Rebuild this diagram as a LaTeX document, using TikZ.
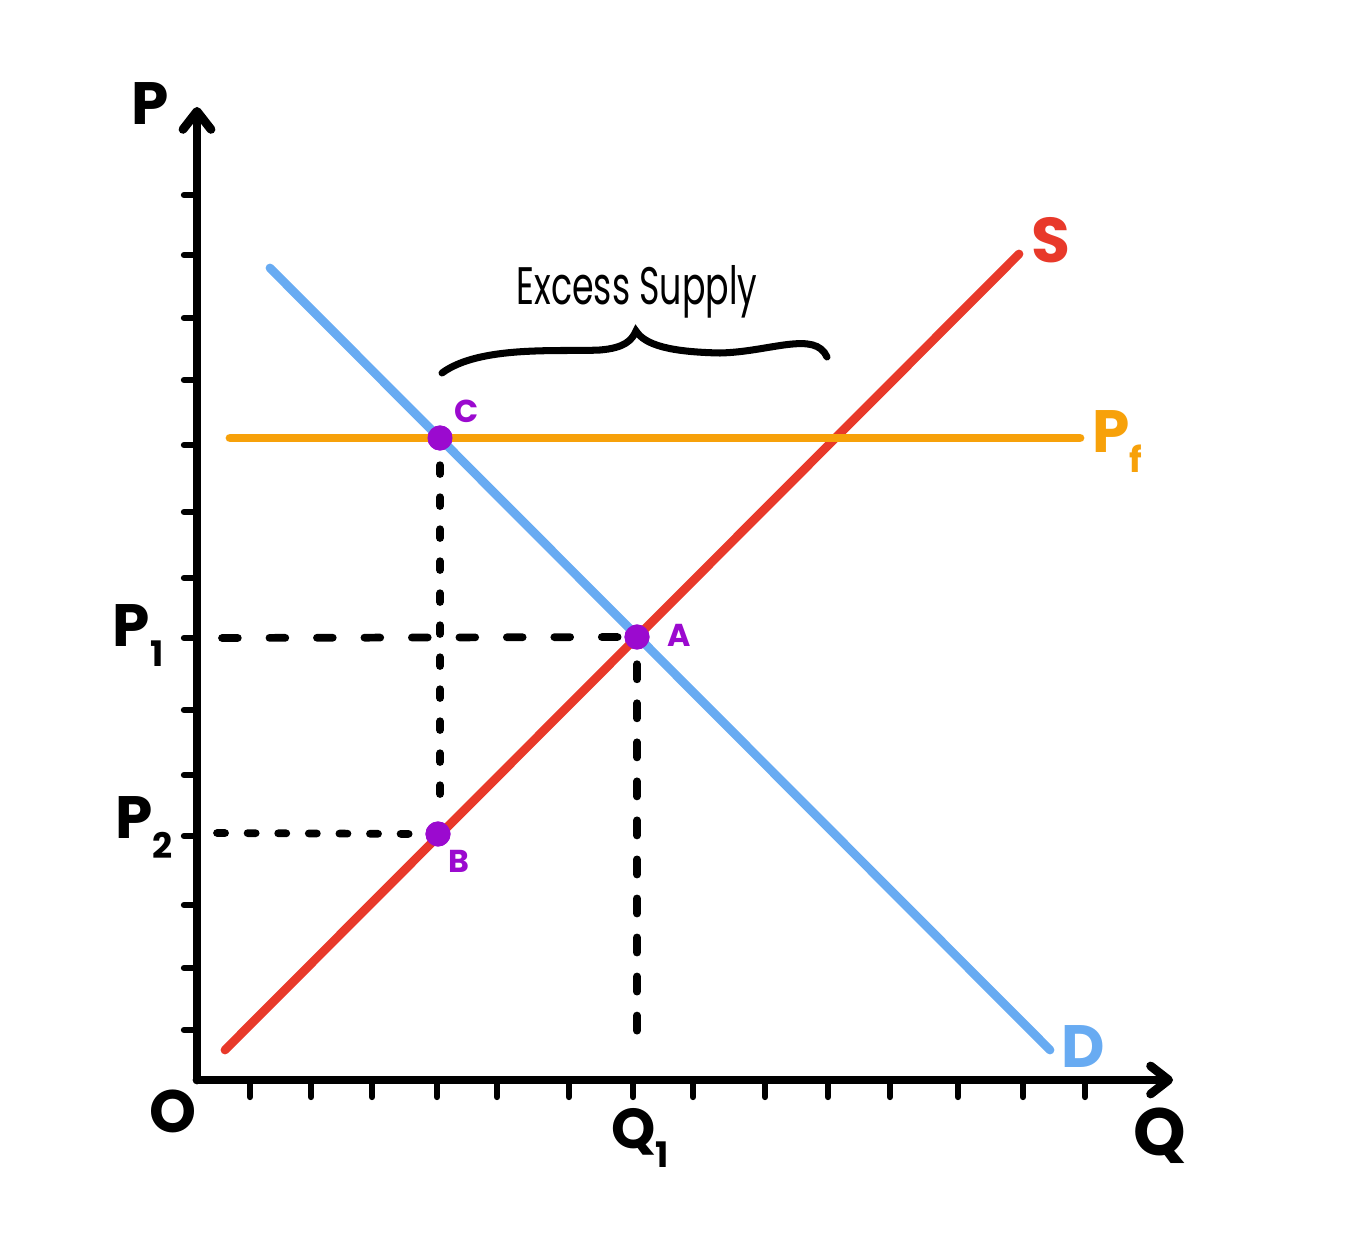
\documentclass[tikz,border=0pt]{standalone}
\usepackage{fontspec}
\setmainfont{Poppins}
\usetikzlibrary{arrows.meta,positioning,calc}
\definecolor{ink}{HTML}{000000}
\definecolor{demand}{HTML}{68ABF2}
\definecolor{supply}{HTML}{E8392A}
\definecolor{pfloor}{HTML}{F7A10A}
\definecolor{dotc}{HTML}{9B0ACF}
\newcommand{\lowsub}[1]{\raisebox{-0.6ex}{\fontsize{10}{10}\selectfont #1}}

\begin{document}
\begin{tikzpicture}[x=0.01cm,y=-0.01cm,line cap=round,
  axis/.style={ink,line width=2.5pt,-{Straight Barb[length=0.18cm,width=0.28cm,round]}},
  tick/.style={ink,line width=1.8pt},
  curve/.style={line width=2.5pt},
  guide/.style={ink,line width=2.2pt},
  dot/.style={circle,fill=dotc,inner sep=0pt,minimum size=0.25cm},
  lbl/.style={inner sep=0pt,font=\fontsize{17}{17}\selectfont\bfseries},
  ptlbl/.style={dotc,inner sep=0pt,font=\fontsize{9}{9}\selectfont\bfseries}]
\useasboundingbox (0,0) rectangle (1354,1243);

% axes
\coordinate (O) at (197,1080);
\coordinate (ytop) at (197,107);
\coordinate (xend) at (1173,1080);
\draw[axis] (O) -- (ytop);
\draw[axis] (O) -- (xend);
\foreach \yy in {195,255,318,380,445,512,578,638,710,775,836,905,968,1030}
  \draw[tick] (184,\yy) -- (197,\yy);
\foreach \xx in {250,311,372,437,497,569,633,693,765,828,890,958,1023,1085}
  \draw[tick] (\xx,1080) -- (\xx,1097);

% axis labels
\node[lbl] (lblP) at (150,104) {P};
\node[lbl] (lblO) at (173,1111) {O};
\node[lbl,font=\fontsize{19}{19}\selectfont\bfseries] (lblQ) at (1160,1136) {Q};
\node[lbl,font=\fontsize{16}{16}\selectfont\bfseries] (lblQone) at (640,1138) {Q\lowsub{1}};
\node[lbl] (lblPone) at (138,636) {P\lowsub{1}};
\node[lbl] (lblPtwo) at (144,828) {P\lowsub{2}};

% points
\node[dot] (ptC) at (440,438) {};
\node[dot] (ptA) at (637,637) {};
\node[dot] (ptB) at (438,834) {};

% guides
\coordinate (gPone) at (222,638);
\coordinate (gQone) at (637,1043);
\coordinate (gCdown) at (440,805);
\coordinate (gPtwo) at (217,833);
\draw[guide,dash pattern=on 4.5pt off 9pt] (gPone) -- (ptA.west);
\draw[guide,dash pattern=on 4.3pt off 6.8pt] ($(ptA.south)+(0,14)$) -- (gQone);
\draw[guide,dash pattern=on 2.5pt off 6.6pt] ($(ptC.south)+(0,14)$) -- (gCdown);
\draw[guide,dash pattern=on 2.3pt off 6.4pt] (gPtwo) -- (ptB.west);

% curves
\coordinate (sLo) at (225,1050);
\coordinate (sHi) at (1019,254);
\coordinate (dHi) at (270,268);
\coordinate (dLo) at (1050,1050);
\coordinate (fL) at (230,438);
\coordinate (fR) at (1080,438);
\draw[curve,supply] (sLo) -- (sHi);
\draw[curve,demand] (dHi) -- (dLo);
\draw[curve,pfloor] (fL) -- (fR);
\node[dot] at (ptC) {};
\node[dot] at (ptA) {};
\node[dot] at (ptB) {};

\node[lbl,supply,font=\fontsize{18}{18}\selectfont\bfseries] (lblS) at (1051,240) {S};
\node[lbl,demand,font=\fontsize{17}{17}\selectfont\bfseries] (lblD) at (1083,1047) {D};
\node[lbl,pfloor] (lblPf) at (1117,442) {P\lowsub{f}};

\node[ptlbl] (lblC) at (467,411) {C};
\node[ptlbl] (lblA) at (679,635) {A};
\node[ptlbl] (lblB) at (459,861) {B};

% brace
\coordinate (brL) at (442,373);
\coordinate (brTip) at (636,331);
\coordinate (brR) at (827,357);
\draw[ink,line width=2pt] (brL) .. controls (480,345) and (560,352) .. (600,350)
  .. controls (625,348) and (632,340) .. (brTip)
  .. controls (645,345) and (670,352) .. (720,353)
  .. controls (770,352) and (815,330) .. (brR);
\node[inner sep=0pt,font=\fontsize{15}{15}\selectfont] (lblExcess) at (637,292)
  {\scalebox{0.66}[1]{Excess Supply}};
\end{tikzpicture}
\end{document}
